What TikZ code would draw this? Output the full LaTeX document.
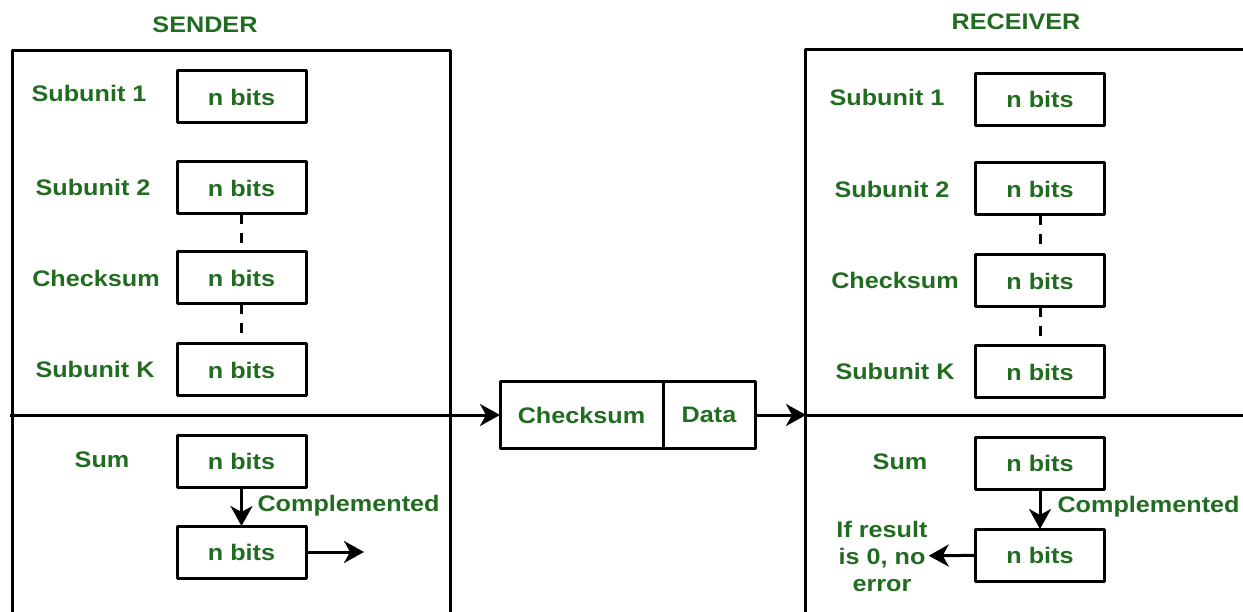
\documentclass[tikz,border=0pt]{standalone}
\usepackage{fontspec}
\setmainfont{Liberation Sans}[FakeStretch=1.12]
\usepackage{tikz}
\usetikzlibrary{arrows.meta}
\usetikzlibrary{positioning}
\definecolor{gfgreen}{RGB}{34,108,34}
\tikzset{l/.style={font=\fontsize{22.5}{27}\selectfont\bfseries, text=gfgreen}}
\tikzset{w/.style={line width=3pt}}
\tikzset{bits/.style={draw, w, l, minimum width=129pt, minimum height=52pt, inner sep=0pt, outer sep=0pt}}
\tikzset{arr/.style={w, -{Stealth[length=20pt,width=22pt,inset=6pt]}}}
\tikzset{gap/.style={w, dash pattern=on 10pt off 9pt}}

\begin{document}
\begin{tikzpicture}[x=1pt, y=-1pt, line join=round]
  \useasboundingbox (0,0) rectangle (1243,612);
  % sender side
  \draw[w] (12,620) |- (450,51) -- (450,620);
  \node[l] (stitle) at (205,25) {SENDER};
  \node[bits] (s1) at (241.5,97) {n bits};
  \node[bits] (s2) at (241.5,188) {n bits};
  \node[bits] (sc) at (241.5,278) {n bits};
  \node[bits] (sk) at (241.5,370) {n bits};
  \node[bits] (ssum) at (241.5,461) {n bits};
  \node[bits] (scmp) at (241.5,552) {n bits};
  \node[l] (ls1) at (89,93) {Subunit 1};
  \node[l] (ls2) at (93,187) {Subunit 2};
  \node[l] (lsc) at (96,278) {Checksum};
  \node[l] (lsk) at (95,369) {Subunit K};
  \node[l] (lssum) at (102,460) {Sum};
  \node[l, anchor=west] (lscmp) at (254,506) {Complemented};
  \draw[gap] (s2) -- (sc);
  \draw[gap] (sc) -- (sk);
  \draw[arr] (ssum) -- (scmp);
  \coordinate (sout) at (364,552);
  \draw[arr] (scmp) -- (sout);

  % packet on the line
  \node[bits, minimum width=163pt, minimum height=66pt] (pck) at (581.5,415) {Checksum};
  \node[bits, minimum width=92pt, minimum height=66pt, right=0pt of pck] (pdat) {Data};
  \coordinate (sdiv) at (10,415);
  \draw[arr] (sdiv) -- (pck);
  \coordinate (rin) at (806,415);
  \draw[arr] (pdat) -- (rin);

  % receiver side
  \draw[w] (805,620) |- (1250,50);
  \draw[w] (805,415) -- (1250,415);
  \node[l] (rtitle) at (1016,22) {RECEIVER};
  \node[bits] (r1) at (1040,99.5) {n bits};
  \node[bits] (r2) at (1040,189) {n bits};
  \node[bits] (rc) at (1040,281) {n bits};
  \node[bits] (rk) at (1040,372) {n bits};
  \node[bits] (rsum) at (1040,463) {n bits};
  \node[bits] (rcmp) at (1040,555) {n bits};
  \node[l] (lr1) at (887,97) {Subunit 1};
  \node[l] (lr2) at (892,189) {Subunit 2};
  \node[l] (lrc) at (895,280) {Checksum};
  \node[l] (lrk) at (895,371) {Subunit K};
  \node[l] (lrsum) at (900,462) {Sum};
  \node[l, anchor=west] (lrcmp) at (1054,507) {Complemented};
  \node[l, align=center, inner sep=1pt] (lres) at (882,556) {If result\\is 0, no\\error};
  \draw[gap] (r2) -- (rc);
  \draw[gap] (rc) -- (rk);
  \draw[arr] (rsum) -- (rcmp);
  \draw[arr] (rcmp) -- (lres);
\end{tikzpicture}
\end{document}
